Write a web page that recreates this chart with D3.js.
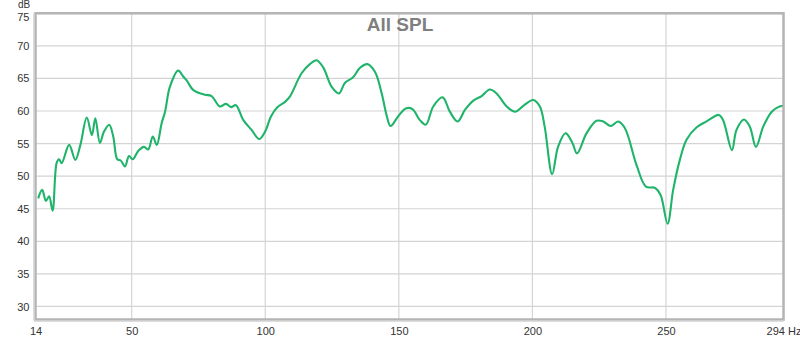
<!DOCTYPE html>
<html><head><meta charset="utf-8">
<script src="https://cdn.jsdelivr.net/npm/d3@7"></script>
<style>
html,body{margin:0;padding:0;background:#fff;}
svg{display:block;font-family:"Liberation Sans",Arial,sans-serif;}
</style></head>
<body>
<svg id="c" width="800" height="339"></svg>
<script>
const freqs = [15.0,16.5,17.9,19.1,20.4,21.9,22.8,23.8,26.6,28.9,30.8,33.2,35.1,36.4,38.1,39.6,41.6,43.1,44.6,45.9,47.5,49.0,50.4,52.5,54.6,56.2,57.9,59.4,61.2,62.5,64.3,67.4,69.3,70.6,73.1,77.4,79.9,83.0,85.3,87.2,89.0,91.8,94.9,97.7,99.9,102.2,104.6,107.4,109.2,113.6,116.7,119.2,121.7,124.9,127.6,129.8,132.9,135.4,138.2,141.1,143.6,145.4,146.9,149.8,152.6,155.1,157.9,160.1,162.9,166.4,169.1,172.0,174.8,177.9,181.0,184.1,186.6,190.4,193.5,196.6,200.3,202.8,204.6,207.4,209.6,212.4,215.0,216.7,220.3,224.0,226.5,229.3,232.1,234.6,239.0,242.5,245.9,248.0,250.6,252.7,255.2,257.7,261.5,265.2,269.8,271.4,274.7,276.4,279.2,281.4,283.7,286.4,289.6,292.0,293.9];
const splValues = [46.6,47.9,46.2,46.9,44.7,52.0,52.6,52.0,54.8,52.5,54.8,59.0,56.3,58.9,55.1,56.8,57.9,56.1,52.6,52.4,51.5,53.1,52.6,53.9,54.5,54.1,56.1,54.8,58.1,59.9,63.7,66.2,65.3,64.7,63.2,62.5,62.3,60.7,61.1,60.6,60.9,58.6,57.1,55.7,56.8,59.2,60.6,61.4,62.2,65.8,67.2,67.8,66.7,63.7,62.7,64.3,65.2,66.6,67.2,66.0,62.7,59.4,57.7,59.2,60.4,60.3,58.6,57.9,60.7,62.1,59.9,58.4,60.2,61.6,62.3,63.3,62.7,60.7,59.9,60.8,61.7,60.7,57.6,50.3,54.5,56.6,55.1,53.5,56.6,58.5,58.4,57.7,58.4,57.4,51.7,48.4,48.2,47.1,42.7,47.9,52.5,55.6,57.5,58.4,59.4,58.6,54.0,57.1,58.7,57.6,54.5,57.6,59.9,60.6,60.8];
const xTicks = [14,50,100,150,200,250,294];
const yTicks = [30,35,40,45,50,55,60,65,70,75];
const title = "All SPL";
const yUnit = "dB";
const xUnit = "Hz";

const svg = d3.select("#c");
const L = 35.5, R = 783.5, T = 13.3, B = 319.5;
const x = d3.scaleLinear().domain([14,294]).range([L,R]);
const y = d3.scaleLinear().domain([28,75]).range([B,T]);

// grid
svg.append("g").selectAll("line").data(yTicks.filter(v=>v<75)).join("line")
  .attr("x1",L).attr("x2",R).attr("y1",d=>y(d)).attr("y2",d=>y(d))
  .attr("stroke","#d4d4d4").attr("stroke-width",1.2);
svg.append("g").selectAll("line").data(xTicks.filter(v=>v>14&&v<294)).join("line")
  .attr("y1",T).attr("y2",B).attr("x1",d=>x(d)).attr("x2",d=>x(d))
  .attr("stroke","#d4d4d4").attr("stroke-width",1.2);

// title
svg.append("text").attr("x",400).attr("y",31).attr("text-anchor","middle")
  .attr("font-size",19).attr("font-weight","bold").attr("fill","#7f7f7f").text(title);

// curve
svg.append("clipPath").attr("id","clip").append("rect")
  .attr("x",L).attr("y",T).attr("width",R-L).attr("height",B-T);
const pts = freqs.map((f,i)=>[f,splValues[i]]);
const line = d3.line().x(d=>x(d[0])).y(d=>y(d[1])).curve(d3.curveCatmullRom.alpha(0.5));
svg.append("path").attr("d",line(pts)).attr("fill","none")
  .attr("stroke","#1fb46a").attr("stroke-width",2.1).attr("clip-path","url(#clip)");

// frame
svg.append("rect").attr("x",L).attr("y",T).attr("width",R-L).attr("height",B-T)
  .attr("fill","none").attr("stroke","#b4b4b4").attr("stroke-width",2.5);
svg.append("line").attr("x1",L-1.5).attr("x2",L-1.5).attr("y1",T).attr("y2",B+1)
  .attr("stroke","#d0d0d0").attr("stroke-width",1.5);
svg.append("line").attr("x1",L-1.5).attr("x2",R).attr("y1",B+1.5).attr("y2",B+1.5)
  .attr("stroke","#d0d0d0").attr("stroke-width",1.5);

// axes
const ya = d3.axisLeft(y).tickValues(yTicks).tickSize(0).tickPadding(5);
const gy = svg.append("g").attr("transform",`translate(${L-1},0)`).call(ya);
gy.select(".domain").remove();
gy.selectAll("text").attr("font-size",11).attr("fill","#333").attr("font-family","Liberation Sans, Arial, sans-serif")
  .attr("dy", d => d===75 ? "0.62em" : "0.32em");

const xa = d3.axisBottom(x).tickValues(xTicks).tickSize(0).tickPadding(7)
  .tickFormat(d=> d===294 ? d+" "+xUnit : d);
const gx = svg.append("g").attr("transform",`translate(0,${B+1})`).call(xa);
gx.select(".domain").remove();
gx.selectAll("text").attr("font-size",11).attr("fill","#333").attr("font-family","Liberation Sans, Arial, sans-serif");

svg.append("text").attr("x",18).attr("y",8).attr("font-size",10).attr("fill","#333").text(yUnit);
</script>
</body></html>
